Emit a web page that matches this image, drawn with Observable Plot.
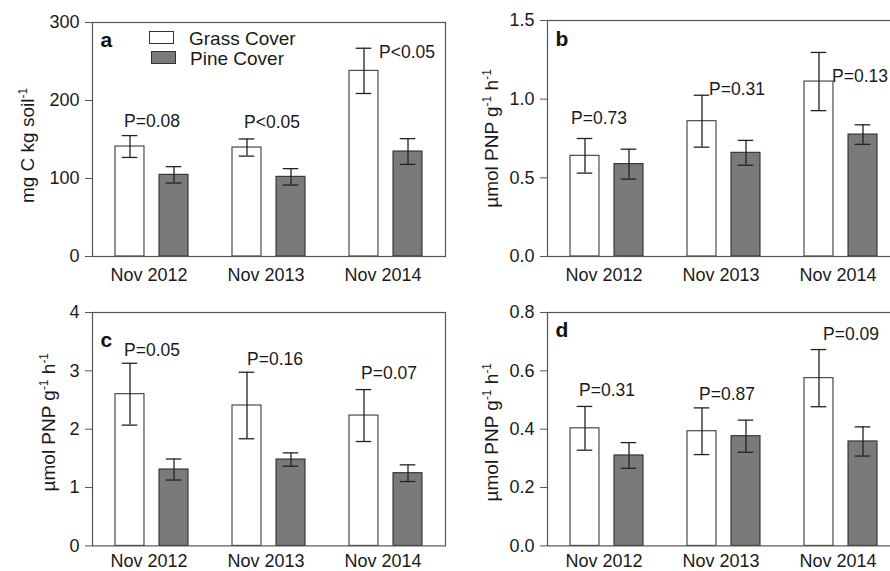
<!DOCTYPE html>
<html><head><meta charset="utf-8">
<script src="https://cdn.jsdelivr.net/npm/d3@7"></script>
<script src="https://cdn.jsdelivr.net/npm/@observablehq/plot@0.6"></script>
<style>
html,body{margin:0;padding:0;background:#fff;}
#root{position:relative;width:890px;height:571px;overflow:hidden;font-family:"Liberation Sans",Arial,sans-serif;color:#1a1a1a;}
.panel{position:absolute;}
.sw{position:absolute;width:25px;height:13px;box-sizing:border-box;border:1.2px solid #333;}
.lt{position:absolute;font-size:19px;line-height:19px;white-space:nowrap;}
</style></head><body><div id="root"></div>
<script>
// ---- data ----
const years = ["Nov 2012", "Nov 2013", "Nov 2014"];
const covers = ["Grass Cover", "Pine Cover"];

// panel a: mg C kg soil-1
const aGrass = [141, 139.7, 238];
const aGrassErr = [14, 11, 29];
const aPine = [104.7, 102.1, 134.6];
const aPineErr = [10.5, 10.5, 16.5];
const aP = ["P=0.08", "P<0.05", "P<0.05"];
const aPY = [173.5, 172, 262];

// panel b
const bGrass = [0.64, 0.86, 1.112];
const bGrassErr = [0.11, 0.165, 0.185];
const bPine = [0.587, 0.659, 0.775];
const bPineErr = [0.095, 0.079, 0.062];
const bP = ["P=0.73", "P=0.31", "P=0.13"];
const bPY = [0.875, 1.06, 1.146];

// panel c
const cGrass = [2.60, 2.406, 2.234];
const cGrassErr = [0.53, 0.57, 0.445];
const cPine = [1.309, 1.48, 1.246];
const cPineErr = [0.18, 0.114, 0.143];
const cP = ["P=0.05", "P=0.16", "P=0.07"];
const cPY = [3.354, 3.2, 2.96];

// panel d
const dGrass = [0.403, 0.393, 0.575];
const dGrassErr = [0.075, 0.08, 0.098];
const dPine = [0.31, 0.376, 0.358];
const dPineErr = [0.044, 0.055, 0.05];
const dP = ["P=0.31", "P=0.87", "P=0.09"];
const dPY = [0.534, 0.518, 0.726];

const aTicks = [0, 100, 200, 300];
const bTicks = [0, 0.5, 1.0, 1.5];
const cTicks = [0, 1, 2, 3, 4];
const dTicks = [0, 0.2, 0.4, 0.6, 0.8];

// axis titles: [text, superscript?]
const aLabelParts = [["mg C kg soil", false], ["-1", true]];
const pnpLabelParts = [["µmol PNP g", false], ["-1", true], [" h", false], ["-1", true]];

// annotation horizontal nudges (px)
const aPdx = [0, 3, 21], bPdx = [-8, 13, 19], cPdx = [0, 6, 3], dPdx = [0, 3, 10];

// ---- layout ----
const PLOT_W = 353, ML = 92, MR = 3;
const BW = PLOT_W / 3 * (1 - 0.376); // band width
const BAR = 29.4, CAP = 16;
const SVGNS = "http://www.w3.org/2000/svg";

function supify(svg, parts) {
  const plain = parts.map(p => p[0]).join("");
  svg.querySelectorAll("text").forEach(t => {
    if (t.textContent !== plain) return;
    t.textContent = "";
    let raised = false;
    parts.forEach(([s, sup]) => {
      const ts = document.createElementNS(SVGNS, "tspan");
      ts.textContent = s;
      if (sup) { ts.setAttribute("font-size", "12"); if (!raised) ts.setAttribute("dy", "-7"); raised = true; }
      else if (raised) { ts.setAttribute("dy", "7"); raised = false; }
      t.appendChild(ts);
    });
  });
}

function makePanel(o) {
  const g = years.map((yr, i) => ({year: yr, cover: covers[0], value: o.grass[i], err: o.grassErr[i]}));
  const p = years.map((yr, i) => ({year: yr, cover: covers[1], value: o.pine[i], err: o.pineErr[i]}));
  const pl = years.map((yr, i) => ({year: yr, label: o.pLab[i], y: o.pY[i], dx: o.pDx[i]}));
  const off = (BW - BAR) / 2;
  const eb = {stroke: "#222", strokeWidth: 1.3};
  const labelText = o.labelParts.map(p => p[0]).join("");
  const marks = [
    Plot.barY(g, {x: "year", y: "value", fill: "white", stroke: "#3a3a3a", strokeWidth: 1.1, insetRight: BW - BAR}),
    Plot.barY(p, {x: "year", y: "value", fill: "#7a7a7a", stroke: "#2e2e2e", strokeWidth: 1.1, insetLeft: BW - BAR}),
    Plot.ruleX(g, {x: "year", y1: d => d.value - d.err, y2: d => d.value + d.err, dx: -off, ...eb}),
    Plot.ruleX(p, {x: "year", y1: d => d.value - d.err, y2: d => d.value + d.err, dx: off, ...eb}),
    Plot.tickY(g, {x: "year", y: d => d.value + d.err, insetLeft: BAR / 2 - CAP / 2, insetRight: BW - BAR / 2 - CAP / 2, ...eb}),
    Plot.tickY(g, {x: "year", y: d => d.value - d.err, insetLeft: BAR / 2 - CAP / 2, insetRight: BW - BAR / 2 - CAP / 2, ...eb}),
    Plot.tickY(p, {x: "year", y: d => d.value + d.err, insetRight: BAR / 2 - CAP / 2, insetLeft: BW - BAR / 2 - CAP / 2, ...eb}),
    Plot.tickY(p, {x: "year", y: d => d.value - d.err, insetRight: BAR / 2 - CAP / 2, insetLeft: BW - BAR / 2 - CAP / 2, ...eb}),
    ...pl.map(d => Plot.text([d], {x: "year", y: "y", text: "label", dx: d.dx, fontSize: 17.5, fill: "#1a1a1a"})),
    Plot.text([o.letter], {frameAnchor: "top-left", text: d => d, dx: 8, dy: o.letterDy, lineAnchor: "top", textAnchor: "start", fontWeight: "bold", fontSize: 21, fill: "#111"}),
    Plot.text([labelText], {frameAnchor: "left", text: d => d, rotate: -90, dx: -o.labelOffset, dy: o.labelDy, textAnchor: "middle", lineAnchor: "middle", fontSize: o.labelSize, fill: "#1a1a1a"}),
    Plot.axisY({ticks: o.ticks, tickFormat: o.fmt, tickSize: 7, tickPadding: 6, stroke: "#555", fill: "#1a1a1a", label: null}),
    Plot.axisX({tickSize: 0, tickPadding: o.xPad, dx: -3, label: null, fill: "#1a1a1a"}),
    Plot.frame({stroke: "#555", strokeWidth: 1.2})
  ];
  const chart = Plot.plot({
    width: ML + PLOT_W + MR,
    height: o.mt + o.ph + 36,
    marginLeft: ML, marginRight: MR, marginTop: o.mt, marginBottom: 36,
    style: {fontSize: "18px", fontFamily: '"Liberation Sans", Arial, sans-serif', background: "transparent", overflow: "visible"},
    x: {domain: years, paddingInner: 0.376, paddingOuter: 0.188, align: 0.5},
    y: {domain: o.domain},
    marks
  });
  supify(chart, o.labelParts);
  chart.classList.add("panel");
  chart.style.left = o.left + "px";
  chart.style.top = o.top + "px";
  document.getElementById("root").appendChild(chart);
}

const f1 = d3.format(".1f"), f0 = d3.format("d");
makePanel({letter: "a", letterDy: 10, grass: aGrass, grassErr: aGrassErr, pine: aPine, pineErr: aPineErr, pLab: aP, pY: aPY, pDx: aPdx,
  domain: [0, 300], ticks: aTicks, fmt: f0, labelParts: aLabelParts, labelSize: 19, labelOffset: 65, labelDy: 6, xPad: 12, left: 0, top: 0, mt: 22, ph: 234});
makePanel({letter: "b", letterDy: 11, grass: bGrass, grassErr: bGrassErr, pine: bPine, pineErr: bPineErr, pLab: bP, pY: bPY, pDx: bPdx,
  domain: [0, 1.5], ticks: bTicks, fmt: f1, labelParts: pnpLabelParts, labelSize: 19, labelOffset: 55.5, labelDy: 0, xPad: 12, left: 455, top: 0, mt: 20, ph: 236});
makePanel({letter: "c", letterDy: 19.5, grass: cGrass, grassErr: cGrassErr, pine: cPine, pineErr: cPineErr, pLab: cP, pY: cPY, pDx: cPdx,
  domain: [0, 4], ticks: cTicks, fmt: f0, labelParts: pnpLabelParts, labelSize: 19, labelOffset: 43.7, labelDy: -7, xPad: 8, left: 0, top: 290.3, mt: 22, ph: 233.4});
makePanel({letter: "d", letterDy: 10, grass: dGrass, grassErr: dGrassErr, pine: dPine, pineErr: dPineErr, pLab: dP, pY: dPY, pDx: dPdx,
  domain: [0, 0.8], ticks: dTicks, fmt: f1, labelParts: pnpLabelParts, labelSize: 19, labelOffset: 55.5, labelDy: 3, xPad: 8, left: 455, top: 290.3, mt: 22, ph: 233.4});

// legend (inside panel a)
const root = document.getElementById("root");
const legendFills = ["#ffffff", "#7a7a7a"];
const legendPos = [[149, 31, 189, 39], [150.7, 51, 190, 58.5]];
covers.forEach((c, i) => {
  const [sx, sy, tx, ty] = legendPos[i];
  const sw = document.createElement("div");
  sw.className = "sw"; sw.style.left = sx + "px"; sw.style.top = sy + "px"; sw.style.background = legendFills[i];
  root.appendChild(sw);
  const t = document.createElement("div");
  t.className = "lt"; t.textContent = c; t.style.left = tx + "px"; t.style.top = (ty - 10) + "px";
  root.appendChild(t);
});
</script></body></html>
